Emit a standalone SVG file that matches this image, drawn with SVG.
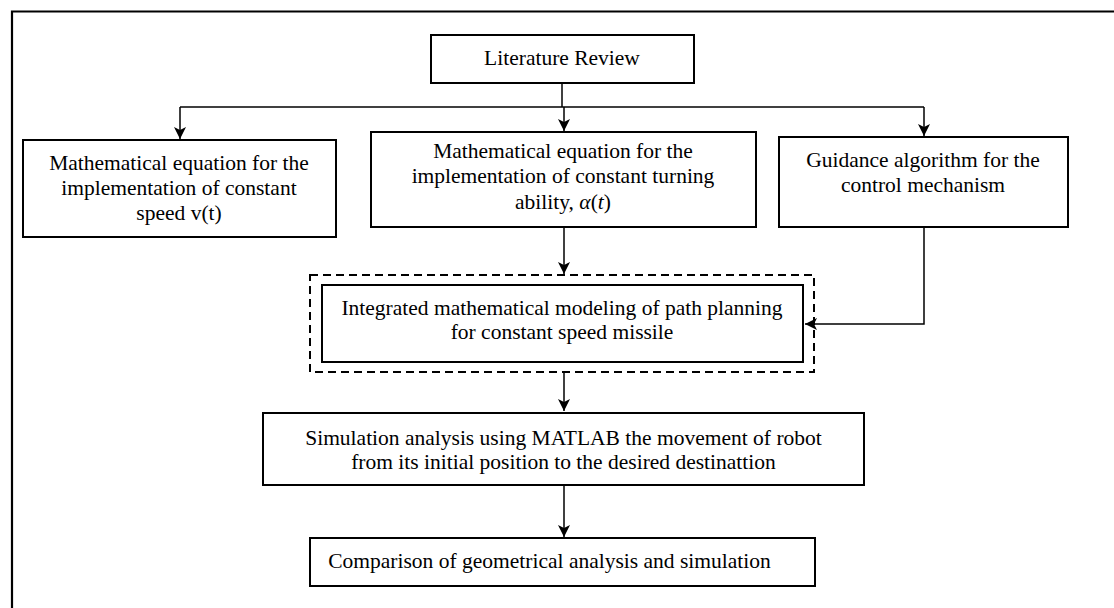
<svg xmlns="http://www.w3.org/2000/svg" width="1114" height="608" viewBox="0 0 1114 608">
<defs>
<style>
.box{fill:#fff;stroke:#000;stroke-width:2}
.dash{fill:none;stroke:#000;stroke-width:2;stroke-dasharray:8 5}
.t{font-family:"Liberation Serif","Times New Roman",serif;font-size:21.5px;fill:#000;text-anchor:middle}
.c{fill:none;stroke:#000;stroke-width:1.5}
.frame{fill:none;stroke:#000;stroke-width:2.2}
</style>
<marker id="ah" viewBox="0 0 12 12" refX="12" refY="6" markerWidth="12" markerHeight="12" markerUnits="userSpaceOnUse" orient="auto">
<path d="M0,0 L12,6 L0,12 L3,6 z" fill="#000"/>
</marker>
</defs>
<rect width="1114" height="608" fill="#fff"/>
<path class="frame" d="M12,608 V11.5 H1114"/>
<g id="connectors">
<path class="c" d="M562,83 V107"/>
<path class="c" d="M180,107 H924"/>
<path class="c" d="M180,107 V139" marker-end="url(#ah)"/>
<path class="c" d="M564,107 V131" marker-end="url(#ah)"/>
<path class="c" d="M924,107 V136" marker-end="url(#ah)"/>
<path class="c" d="M564,227 V274" marker-end="url(#ah)"/>
<path class="c" d="M924,227 V324 H805" marker-end="url(#ah)"/>
<path class="c" d="M564,372 V411" marker-end="url(#ah)"/>
<path class="c" d="M564,485 V537" marker-end="url(#ah)"/>
</g>
<g id="n-literature">
<rect class="box" x="431" y="35" width="263" height="48"/>
<text class="t" x="562" y="65">Literature Review</text>
</g>
<g id="n-speed">
<rect class="box" x="23" y="140" width="313" height="97"/>
<text class="t" x="179" y="170">Mathematical equation for the</text>
<text class="t" x="179" y="195">implementation of constant</text>
<text class="t" x="179" y="220">speed v(t)</text>
</g>
<g id="n-turning">
<rect class="box" x="371" y="132" width="385" height="95"/>
<text class="t" x="563" y="158">Mathematical equation for the</text>
<text class="t" x="563" y="183">implementation of constant turning</text>
<text class="t" x="563" y="209">ability,  <tspan font-style="italic">α</tspan>(<tspan font-style="italic">t</tspan>)</text>
</g>
<g id="n-guidance">
<rect class="box" x="779" y="137" width="289" height="90"/>
<text class="t" x="923" y="167">Guidance algorithm for the</text>
<text class="t" x="923" y="192">control mechanism</text>
</g>
<g id="n-integrated">
<rect class="dash" x="310" y="275" width="504" height="97"/>
<rect class="box" x="322" y="285" width="481" height="77"/>
<text class="t" x="562" y="315">Integrated mathematical modeling of path planning</text>
<text class="t" x="562" y="339">for constant speed missile</text>
</g>
<g id="n-simulation">
<rect class="box" x="263" y="413" width="601" height="72"/>
<text class="t" x="563.5" y="445">Simulation analysis using MATLAB the movement of robot</text>
<text class="t" x="563.5" y="469">from its initial position to the desired destinattion</text>
</g>
<g id="n-comparison">
<rect class="box" x="310" y="538" width="505" height="48"/>
<text class="t" x="549.5" y="568">Comparison of geometrical analysis and simulation</text>
</g>
</svg>
